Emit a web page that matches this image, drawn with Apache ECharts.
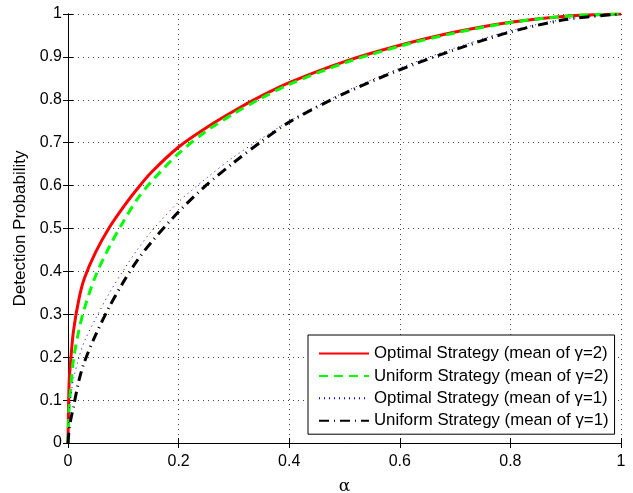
<!DOCTYPE html>
<html>
<head>
<meta charset="utf-8">
<script src="https://cdn.jsdelivr.net/npm/echarts@6/dist/echarts.min.js"></script>
<style>
  html, body { margin: 0; padding: 0; background: #fff; }
  #chart { width: 633px; height: 493px; }
</style>
</head>
<body>
<div id="chart"></div>
<script>
// false alarm probability (x axis)
const alpha = [0, 0.002, 0.005, 0.01, 0.02, 0.03, 0.05, 0.075, 0.1, 0.125, 0.15, 0.2, 0.25, 0.3, 0.35, 0.4, 0.5, 0.6, 0.7, 0.8, 0.9, 1];

// detection probability
const optimalG2 = [0, 0.14, 0.195, 0.262, 0.337, 0.385, 0.445, 0.503, 0.55, 0.592, 0.63, 0.69, 0.735, 0.774, 0.809, 0.84, 0.889, 0.927, 0.958, 0.981, 0.995, 1];
const uniformG2 = [0, 0.08, 0.13, 0.195, 0.265, 0.315, 0.39, 0.458, 0.516, 0.568, 0.608, 0.675, 0.727, 0.768, 0.804, 0.836, 0.886, 0.925, 0.956, 0.98, 0.995, 1];
const optimalG1 = [0, 0.07, 0.108, 0.15, 0.2, 0.238, 0.29, 0.35, 0.402, 0.45, 0.492, 0.562, 0.617, 0.667, 0.71, 0.75, 0.818, 0.874, 0.921, 0.961, 0.988, 1];
const uniformG1 = [0, 0.03, 0.055, 0.085, 0.147, 0.19, 0.252, 0.318, 0.375, 0.425, 0.467, 0.539, 0.601, 0.654, 0.703, 0.748, 0.815, 0.87, 0.917, 0.958, 0.987, 1];

const names = [
  'Optimal Strategy (mean of γ=2)',
  'Uniform Strategy (mean of γ=2)',
  'Optimal Strategy (mean of γ=1)',
  'Uniform Strategy (mean of γ=1)'
];

const font = "'Liberation Sans', Arial, Helvetica, sans-serif";

const pairs = (ys) => alpha.map((a, i) => [a, ys[i]]);

const chart = echarts.init(document.getElementById('chart'), null, { renderer: 'canvas' });

const boxAxis = {
  axisLine: { show: true, lineStyle: { color: '#000', width: 1 } },
  axisTick: { show: true, inside: true, length: 5, lineStyle: { color: '#000' } },
  axisLabel: { show: false },
  splitLine: { show: false }
};

const option = {
  animation: false,
  backgroundColor: '#fff',
  grid: { left: 68, right: 12, top: 14, bottom: 50, outerBoundsMode: 'none', containLabel: false },
  xAxis: [
    {
      type: 'value', min: 0, max: 1, interval: 0.2, position: 'bottom',
      name: 'α', nameLocation: 'middle', nameGap: 35,
      nameTextStyle: { fontFamily: "'DejaVu Serif', serif", fontSize: 17, color: '#000' },
      axisLine: { show: true, onZero: false, lineStyle: { color: '#000', width: 1 } },
      axisTick: { show: true, inside: true, length: 5, lineStyle: { color: '#000' } },
      axisLabel: { fontFamily: font, fontSize: 16, color: '#000', margin: 11 },
      splitLine: { show: true, lineStyle: { color: '#444', type: [1, 4], width: 1 } }
    },
    Object.assign({ type: 'value', min: 0, max: 1, interval: 0.2, position: 'top' }, boxAxis)
  ],
  yAxis: [
    {
      type: 'value', min: 0, max: 1, interval: 0.1, position: 'left',
      name: 'Detection Probability', nameLocation: 'middle', nameGap: 36,
      nameTextStyle: { fontFamily: font, fontSize: 17, color: '#000' },
      axisLine: { show: true, onZero: false, lineStyle: { color: '#000', width: 1 } },
      axisTick: { show: true, inside: true, length: 5, lineStyle: { color: '#000' } },
      axisLabel: { fontFamily: font, fontSize: 16, color: '#000', margin: 6 },
      splitLine: { show: true, lineStyle: { color: '#444', type: [1, 4], width: 1 } }
    },
    Object.assign({ type: 'value', min: 0, max: 1, interval: 0.1, position: 'right' }, boxAxis)
  ],
  legend: {
    orient: 'vertical',
    left: 308, top: 335,
    padding: [10, 6, 5, 10],
    itemWidth: 50, itemHeight: 14, itemGap: 5.4,
    backgroundColor: '#fff',
    borderColor: '#000', borderWidth: 1, borderRadius: 0,
    itemStyle: { opacity: 0 },
    textStyle: { fontFamily: font, fontSize: 16.8, color: '#000' },
    data: names
  },
  series: [
    {
      name: names[0], type: 'line', data: pairs(optimalG2),
      symbol: 'none', smooth: 0.3,
      lineStyle: { color: '#ff0000', width: 3 }, itemStyle: { color: '#ff0000' }
    },
    {
      name: names[1], type: 'line', data: pairs(uniformG2),
      symbol: 'none', smooth: 0.3,
      lineStyle: { color: '#00ff00', width: 3, type: [9, 6] }, itemStyle: { color: '#00ff00' }
    },
    {
      name: names[2], type: 'line', data: pairs(optimalG1),
      symbol: 'none', smooth: 0.3,
      lineStyle: { color: '#0000ff', width: 1, type: [1, 4] }, itemStyle: { color: '#0000ff' }
    },
    {
      name: names[3], type: 'line', data: pairs(uniformG1),
      symbol: 'none', smooth: 0.3,
      lineStyle: { color: '#000', width: 3, type: [10, 5, 1, 5] }, itemStyle: { color: '#000' }
    }
  ]
};

chart.setOption(option);
</script>
</body>
</html>
